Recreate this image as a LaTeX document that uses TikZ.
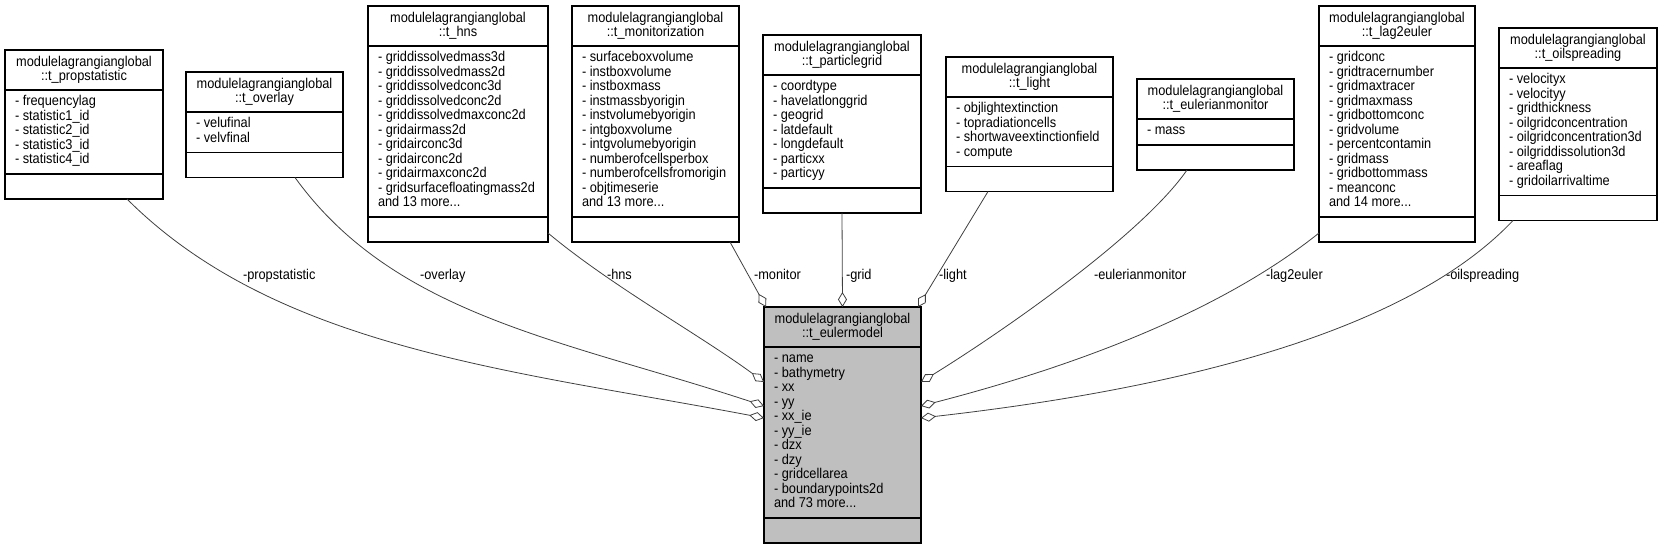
\documentclass[tikz,border=0pt]{standalone}
\usepackage{fontspec}
\setmainfont{Liberation Sans}[FakeStretch=0.9]
\usetikzlibrary{arrows.meta}
\definecolor{linkgray}{HTML}{404040}
\definecolor{emgray}{HTML}{BFBFBF}
\newcommand\mydots{...}
\tikzset{
  classbox/.style={draw=black, line width=1.1pt, inner sep=0pt, outer sep=0pt, anchor=north west},
  sepline/.style={draw=black, line width=1.1pt},
  txt/.style={inner sep=0pt, outer sep=0pt, font=\fontsize{14.2}{14.5}\selectfont},
  link/.style={draw=linkgray, line width=0.8pt, -{Diamond[open,length=15pt,width=9pt]}},
  linklabel/.style={txt, anchor=base west}
}
\newcommand\umlclass[8][white]{%
  \pgfmathsetmacro\hb{#4+40}%
  \pgfmathsetmacro\ab{\hb+#6*14.5+11.5}%
  \pgfmathsetmacro\bb{\ab+25}%
  \pgfmathsetmacro\cx{(#3+#5)/2}%
  \pgfmathsetmacro\bw{#5-#3}%
  \pgfmathsetmacro\bh{\bb-#4}%
  \node[classbox, fill=#1, minimum width=\bw pt, minimum height=\bh pt] (#2) at (#3,#4) {};
  \draw[sepline] (#3,\hb) -- (#5,\hb);
  \draw[sepline] (#3,\ab) -- (#5,\ab);
  \node[txt, anchor=base] (#2-t1) at (\cx,#4+16.7) {modulelagrangianglobal};
  \node[txt, anchor=base] (#2-t2) at (\cx,#4+30.7) {#7};
  \foreach \a [count=\i] in {#8} {
    \pgfmathsetmacro\yy{\hb+15.7+(\i-1)*14.5}
    \node[txt, anchor=base west] (#2-a\i) at (#3+10,\yy) {\a};
  }
}
\begin{document}
\begin{tikzpicture}[x=1pt,y=-1pt]
\useasboundingbox (0,0) rectangle (1663,551);
\umlclass{ps}{5}{50}{163}{5}{::t\_propstatistic}{- frequencylag,- statistic1\_id,- statistic2\_id,- statistic3\_id,- statistic4\_id}
\umlclass{ov}{186}{72}{343}{2}{::t\_overlay}{- velufinal,- velvfinal}
\umlclass{hns}{368}{6}{548}{11}{::t\_hns}{- griddissolvedmass3d,- griddissolvedmass2d,- griddissolvedconc3d,- griddissolvedconc2d,- griddissolvedmaxconc2d,- gridairmass2d,- gridairconc3d,- gridairconc2d,- gridairmaxconc2d,- gridsurfacefloatingmass2d,and 13 more\mydots}
\umlclass{mon}{572}{6}{739}{11}{::t\_monitorization}{- surfaceboxvolume,- instboxvolume,- instboxmass,- instmassbyorigin,- instvolumebyorigin,- intgboxvolume,- intgvolumebyorigin,- numberofcellsperbox,- numberofcellsfromorigin,- objtimeserie,and 13 more\mydots}
\umlclass{pg}{763}{35}{921}{7}{::t\_particlegrid}{- coordtype,- havelatlonggrid,- geogrid,- latdefault,- longdefault,- particxx,- particyy}
\umlclass{li}{946}{57}{1113}{4}{::t\_light}{- objlightextinction,- topradiationcells,- shortwaveextinctionfield,- compute}
\umlclass{eu}{1137}{79}{1294}{1}{::t\_eulerianmonitor}{- mass}
\umlclass{lte}{1319}{6}{1475}{11}{::t\_lag2euler}{- gridconc,- gridtracernumber,- gridmaxtracer,- gridmaxmass,- gridbottomconc,- gridvolume,- percentcontamin,- gridmass,- gridbottommass,- meanconc,and 14 more\mydots}
\umlclass{os}{1499}{28}{1657}{8}{::t\_oilspreading}{- velocityx,- velocityy,- gridthickness,- oilgridconcentration,- oilgridconcentration3d,- oilgriddissolution3d,- areaflag,- gridoilarrivaltime}
\umlclass[emgray]{em}{764}{307}{921}{11}{::t\_eulermodel}{- name,- bathymetry,- xx,- yy,- xx\_ie,- yy\_ie,- dzx,- dzy,- gridcellarea,- boundarypoints2d,and 73 more\mydots}

% connection points
\coordinate (ps-o) at ([xshift=122pt]ps.south west);
\coordinate (ov-o) at ([xshift=109pt]ov.south west);
\coordinate (hns-o) at ([yshift=9pt]hns.south east);
\coordinate (mon-o) at ([xshift=158pt]mon.south west);
\coordinate (pg-o) at (pg.south);
\coordinate (li-o) at ([xshift=42pt]li.south west);
\coordinate (eu-o) at ([xshift=50pt]eu.south west);
\coordinate (lte-o) at ([yshift=9pt]lte.south west);
\coordinate (os-o) at ([xshift=14pt]os.south west);
\coordinate (em-t1) at ([xshift=2pt]em.north west);
\coordinate (em-t2) at (em.north);
\coordinate (em-t3) at ([xshift=-3pt]em.north east);
\coordinate (em-l1) at ([yshift=-75pt]em.north west);
\coordinate (em-l2) at ([yshift=-99pt]em.north west);
\coordinate (em-l3) at ([yshift=-111pt]em.north west);
\coordinate (em-r1) at ([yshift=-75pt]em.north east);
\coordinate (em-r2) at ([yshift=-99pt]em.north east);
\coordinate (em-r3) at ([yshift=-111pt]em.north east);

\draw[link] (ps-o) .. controls (277,349) and (514,370.5) .. (em-l3);
\draw[link] (ov-o) .. controls (395,316) and (564,340) .. (em-l2);
\draw[link] (hns-o) .. controls (610,285) and (700,335) .. (em-l1);
\draw[link] (mon-o) -- (em-t1);
\draw[link] (pg-o) -- (em-t2);
\draw[link] (li-o) -- (em-t3);
\draw[link] (eu-o) .. controls (1142,235) and (1002,332) .. (em-r1);
\draw[link] (lte-o) .. controls (1219,313) and (1072,367) .. (em-r2);
\draw[link] (os-o) .. controls (1400,340) and (1150,392) .. (em-r3);

\node[linklabel] (lb-ps) at (243,279) {-propstatistic};
\node[linklabel] (lb-ov) at (420,279) {-overlay};
\node[linklabel] (lb-hns) at (607,279) {-hns};
\node[linklabel] (lb-mon) at (754,279) {-monitor};
\node[linklabel] (lb-pg) at (846,279) {-grid};
\node[linklabel] (lb-li) at (939,279) {-light};
\node[linklabel] (lb-eu) at (1094,279) {-eulerianmonitor};
\node[linklabel] (lb-lte) at (1266,279) {-lag2euler};
\node[linklabel] (lb-os) at (1446,279) {-oilspreading};
\end{tikzpicture}
\end{document}
